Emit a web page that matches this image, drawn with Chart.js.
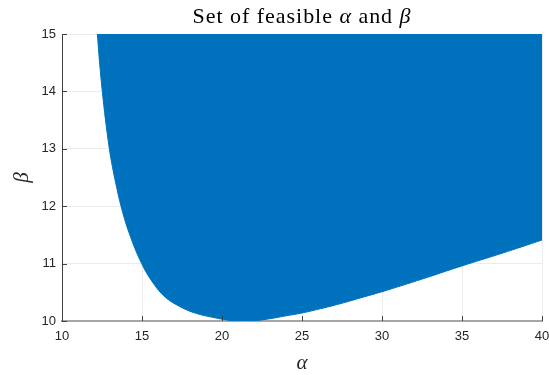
<!DOCTYPE html>
<html>
<head>
<meta charset="utf-8">
<script src="https://cdn.jsdelivr.net/npm/chart.js@4.4.1/dist/chart.umd.min.js"></script>
<style>
  html, body { margin: 0; padding: 0; background: #fff; }
  #wrap { width: 549px; height: 375px; }
</style>
</head>
<body>
<div id="wrap"><canvas id="chart" width="549" height="375"></canvas></div>
<script>
// boundary of the feasible set (alpha -> lowest feasible beta)
var alphaVals = [12.21, 12.35, 12.52, 12.72, 12.97, 13.15, 13.36, 13.7, 14.2, 14.98, 15.7, 16.44, 17.38, 18.42, 19.67, 20.5, 21.2, 22.2, 23.0, 24.0, 25.0, 26.25, 27.5, 28.75, 30.0, 32.5, 35.0, 37.5, 40.0];
var betaVals  = [15.0, 14.5, 14.0, 13.5, 12.98, 12.69, 12.4, 11.99, 11.53, 11.0, 10.66, 10.42, 10.25, 10.13, 10.05, 10.01, 10.0, 10.01, 10.04, 10.09, 10.14, 10.22, 10.31, 10.41, 10.51, 10.73, 10.96, 11.18, 11.41];

var xTicks = [10, 15, 20, 25, 30, 35, 40];
var yTicks = [10, 11, 12, 13, 14, 15];

var fillBlue = '#0072BD';

var points = alphaVals.map(function(a, i) { return { x: a, y: betaVals[i] }; });

// title + axis labels with italic greek letters, and inward tick marks like matlab
var decor = {
  id: 'decor',
  afterDraw: function(chart) {
    var ctx = chart.ctx;
    var area = chart.chartArea;
    var xs = chart.scales.x, ys = chart.scales.y;
    ctx.save();

    // inward ticks
    ctx.strokeStyle = '#404040';
    ctx.lineWidth = 1;
    xTicks.forEach(function(v) {
      var px = Math.round(xs.getPixelForValue(v)) + 0.5;
      ctx.beginPath();
      ctx.moveTo(px, area.bottom);
      ctx.lineTo(px, area.bottom - 5);
      ctx.stroke();
    });
    yTicks.forEach(function(v) {
      var py = Math.round(ys.getPixelForValue(v)) + 0.5;
      ctx.beginPath();
      ctx.moveTo(area.left, py);
      ctx.lineTo(area.left + 5, py);
      ctx.stroke();
    });

    // title, drawn in pieces so alpha and beta can be italic
    var parts = [
      ['Set of feasible ', 'normal'],
      ['α', 'italic'],
      [' and ', 'normal'],
      ['β', 'italic']
    ];
    var size = 22;
    var total = 0, nChars = 0;
    parts.forEach(function(p) {
      ctx.font = p[1] + ' ' + size + 'px "Liberation Serif"';
      total += ctx.measureText(p[0]).width;
      nChars += p[0].length;
    });
    // stretch a little, latex font is wider than times
    var extra = Math.max(0, (219 - total) / nChars);
    var cx = (area.left + area.right) / 2;
    var x = cx - (total + extra * nChars) / 2;
    ctx.fillStyle = '#000';
    ctx.textBaseline = 'alphabetic';
    ctx.textAlign = 'left';
    parts.forEach(function(p) {
      ctx.font = p[1] + ' ' + size + 'px "Liberation Serif"';
      for (var i = 0; i < p[0].length; i++) {
        var c = p[0][i];
        ctx.fillText(c, x, 23);
        x += ctx.measureText(c).width + extra;
      }
    });

    // axis labels
    ctx.font = 'italic 21px "Liberation Serif"';
    ctx.fillStyle = '#262626';
    ctx.textAlign = 'center';
    ctx.textBaseline = 'middle';
    ctx.fillText('α', cx, 363);
    ctx.translate(22, (area.top + area.bottom) / 2);
    ctx.rotate(-Math.PI / 2);
    ctx.fillText('β', 0, 0);
    ctx.restore();
  }
};

var ctx = document.getElementById('chart');
var chart = new Chart(ctx, {
  type: 'scatter',
  data: {
    datasets: [{
      label: 'feasible',
      data: points,
      showLine: true,
      fill: 'end',
      backgroundColor: fillBlue,
      borderColor: fillBlue,
      borderWidth: 1,
      pointRadius: 0,
      tension: 0.4
    }]
  },
  options: {
    responsive: false,
    animation: false,
    layout: { padding: { left: 0, top: 34, right: 7, bottom: 0 } },
    plugins: {
      legend: { display: false },
      tooltip: { enabled: false },
      title: { display: false }
    },
    scales: {
      x: {
        type: 'linear',
        min: 10, max: 40,
        afterBuildTicks: function(s) { s.ticks = xTicks.map(function(v) { return { value: v }; }); },
        afterFit: function(s) { s.height = 54; s.paddingLeft = 0; s.paddingRight = 0; },
        grid: { color: '#ebebeb', drawTicks: false },
        border: { color: '#a6a6a6', width: 2 },
        ticks: {
          padding: 8,
          color: '#262626',
          font: { family: '"Liberation Sans", Arial, sans-serif', size: 13 }
        }
      },
      y: {
        type: 'linear',
        min: 10, max: 15,
        afterBuildTicks: function(s) { s.ticks = yTicks.map(function(v) { return { value: v }; }); },
        afterFit: function(s) { s.width = 62; s.paddingTop = 0; s.paddingBottom = 0; },
        grid: { color: '#ebebeb', drawTicks: false },
        border: { color: '#404040', width: 1 },
        ticks: {
          padding: 6,
          color: '#262626',
          font: { family: '"Liberation Sans", Arial, sans-serif', size: 13 }
        }
      }
    }
  },
  plugins: [decor]
});
</script>
</body>
</html>
